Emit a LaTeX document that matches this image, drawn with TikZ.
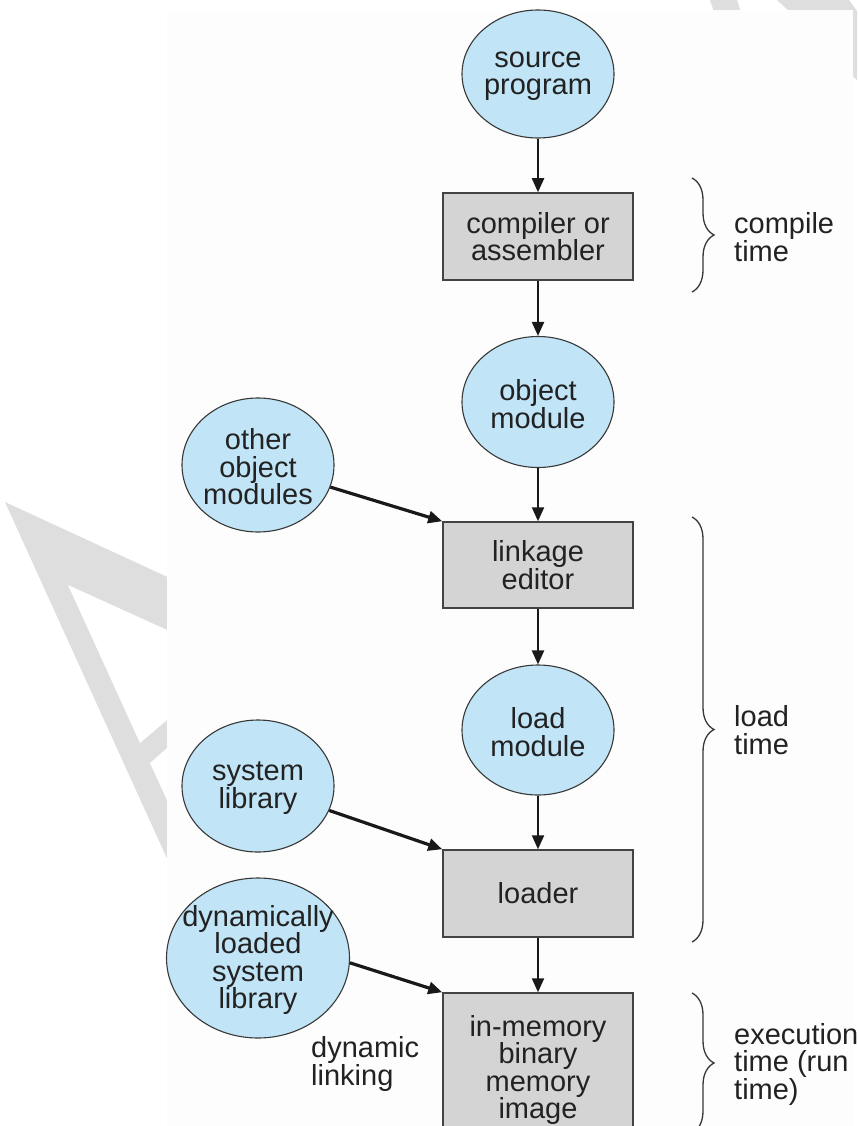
\documentclass[tikz,border=0pt]{standalone}
\usepackage{fontspec}
\setmainfont{Liberation Sans}
\usetikzlibrary{shapes.geometric,arrows.meta,decorations.pathreplacing}
\definecolor{modblue}{RGB}{193,229,246}
\definecolor{boxgray}{RGB}{212,212,212}
\definecolor{ink}{RGB}{34,34,34}
\definecolor{wmgray}{RGB}{222,222,222}
\definecolor{panel}{RGB}{253,253,253}
\begin{document}
\begin{tikzpicture}[x=1pt,y=-1pt,
  every node/.style={font=\fontsize{29}{27.5}\selectfont, text=ink},
  module/.style={ellipse, draw=ink!90, line width=1.1pt, fill=modblue, inner sep=0pt},
  caption/.style={align=center, inner sep=0pt},
  stage/.style={rectangle, draw=ink!85, line width=1.5pt, fill=boxgray,
    minimum width=190, minimum height=87, align=center, inner sep=0pt},
  flow/.style={-{Triangle[length=14pt,width=12pt]}, line width=2.2pt, draw=black!90},
  feed/.style={flow, line width=3.2pt},
  span/.style={decorate, decoration={brace, amplitude=22pt}, line width=1.3pt, draw=ink!90},
  note/.style={align=left, anchor=west, inner sep=0pt}
]
\useasboundingbox (0,0) rectangle (857,1126);
\clip (0,0) rectangle (857,1126);

% background lettering
\fill[wmgray] (5,502) -- (200,592) -- (200,931) -- cycle;
\fill[white] (68,585) -- (200,645) -- (200,692) -- (140,743) -- cycle;
\fill[white] (150,763) -- (200,719) -- (200,872) -- cycle;
\fill[wmgray] (710,0) -- (737,0) -- (741,12) -- (714,12) -- cycle;
\fill[wmgray] (777,0) -- (849,0) -- (857,11) -- (857,80) -- (845,70) -- (790,12) -- cycle;

% figure panel
\fill[panel] (167,10) rectangle (853,1140);

% main column
\node[module, minimum width=152, minimum height=128] (src) at (538,74) {};
\node[caption] (srcT) at (538,76) {source\\program};
\node[stage] (comp) at (538,236.5) {compiler or\\assembler};
\node[module, minimum width=152, minimum height=131] (obj) at (538,402) {};
\node[caption] (objT) at (538,404) {object\\module};
\node[stage, minimum height=86] (link) at (538,565) {linkage\\editor};
\node[module, minimum width=152, minimum height=130] (load) at (538,730) {};
\node[caption] (loadT) at (538,732) {load\\module};
\node[stage] (loader) at (538,893.5) {loader};
\node[stage, minimum height=154] (mem) at (538,1070) {in-memory\\binary\\memory\\image};

% side inputs
\node[module, minimum width=152, minimum height=134] (other) at (258,465) {};
\node[caption] (otherT) at (258,467) {other\\object\\modules};
\node[module, minimum width=152, minimum height=132] (syslib) at (258,786) {};
\node[caption] (syslibT) at (258,788) {system\\library};
\node[module, minimum width=183, minimum height=160] (dyn) at (258,958) {};
\node[caption] (dynT) at (258,960) {dynamically\\loaded\\system\\library};
\node[note] (dlink) at (311,1064) {dynamic\\linking};

% connectors
\draw[flow] (src) -- (comp);
\draw[flow] (comp) -- (obj);
\draw[flow] (obj) -- (link);
\draw[flow] (link) -- (load);
\draw[flow] (load) -- (loader);
\draw[flow] (loader) -- (mem);
\draw[feed] (other) -- (link.north west);
\draw[feed] (syslib) -- (loader.north west);
\draw[feed] (dyn.-3) -- (mem.north west);

% time phases
\coordinate (ctTop) at (692,178);
\coordinate (ctBot) at (692,292);
\coordinate (ltTop) at (692,517);
\coordinate (ltBot) at (692,942);
\coordinate (xtTop) at (692,993);
\coordinate (xtBot) at (692,1133);
\draw[span] (ctTop) -- (ctBot);
\draw[span] (ltTop) -- (ltBot);
\draw[span] (xtTop) -- (xtBot);
\node[note] (ctime) at (734,237) {compile\\time};
\node[note] (ltime) at (734,730) {load\\time};
\node[note] (xtime) at (734,1064) {execution\\time (run\\time)};
\end{tikzpicture}
\end{document}
